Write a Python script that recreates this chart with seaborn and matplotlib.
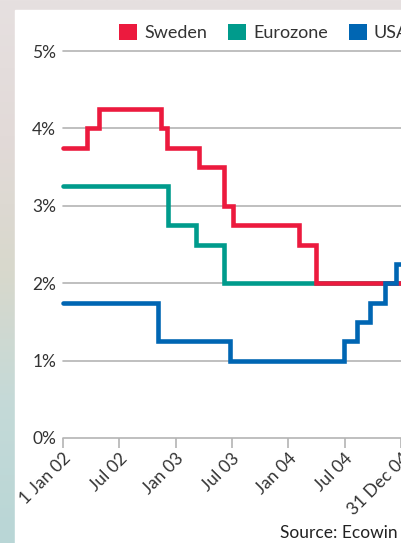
import matplotlib
matplotlib.use("Agg")
import matplotlib.pyplot as plt
from matplotlib.patches import Patch, Rectangle
import numpy as np
import pandas as pd
import seaborn as sns

# Policy rate changes (date of change, new rate in %)
sweden_dates = ["2002-01-01", "2002-03-19", "2002-04-26", "2002-11-15", "2002-12-05",
                "2003-03-17", "2003-06-05", "2003-07-04", "2004-02-06", "2004-04-01",
                "2004-12-31"]
sweden_rates = [3.75, 4.00, 4.25, 4.00, 3.75, 3.50, 3.00, 2.75, 2.50, 2.00, 2.00]

eurozone_dates = ["2002-01-01", "2002-12-06", "2003-03-07", "2003-06-06", "2004-12-31"]
eurozone_rates = [3.25, 2.75, 2.50, 2.00, 2.00]

usa_dates = ["2002-01-01", "2002-11-06", "2003-06-25", "2004-06-30", "2004-08-10",
             "2004-09-21", "2004-11-10", "2004-12-14", "2004-12-31"]
usa_rates = [1.75, 1.25, 1.00, 1.25, 1.50, 1.75, 2.00, 2.25, 2.25]

regions = ["Sweden", "Eurozone", "USA"]
colors = {"Sweden": "#ec1a3e", "Eurozone": "#009b8c", "USA": "#0066b3"}

tick_dates = ["2002-01-01", "2002-07-01", "2003-01-01", "2003-07-01",
              "2004-01-01", "2004-07-01", "2004-12-31"]
tick_labels = ["1 Jan 02", "Jul 02", "Jan 03", "Jul 03", "Jan 04", "Jul 04", "31 Dec 04"]
y_ticks = [0, 1, 2, 3, 4, 5]
y_labels = ["0%", "1%", "2%", "3%", "4%", "5%"]

frames = []
for name, d, r in [("Sweden", sweden_dates, sweden_rates),
                   ("Eurozone", eurozone_dates, eurozone_rates),
                   ("USA", usa_dates, usa_rates)]:
    frames.append(pd.DataFrame({"date": pd.to_datetime(d), "rate": r, "region": name}))
df = pd.concat(frames, ignore_index=True)

sns.set_theme(style="white")
plt.rcParams["font.family"] = ["Lato", "DejaVu Sans"]

W, H = 402, 543
fig = plt.figure(figsize=(W / 100, H / 100), dpi=100)
fig.patch.set_facecolor("#e4dedd")

# paper-like border strip on the left and top, white card behind the chart
strip = fig.add_axes([0, 0, 1, 1], zorder=-10)
grad = np.linspace(0, 1, 256).reshape(-1, 1)
cmap = matplotlib.colors.LinearSegmentedColormap.from_list(
    "edge", ["#b9d6d6", "#c4dad8", "#d8d8cc", "#e2dad8", "#e6e0e0"])
strip.imshow(grad, aspect="auto", cmap=cmap, extent=[0, 1, 0, 1], origin="lower")
strip.add_patch(Rectangle((15 / W, 0), 1, 1 - 10 / H, color="white", zorder=2))
strip.set_xlim(0, 1)
strip.set_ylim(0, 1)
strip.axis("off")

x0 = 63 / W
ax = fig.add_axes([x0, (H - 438) / H, 1 - x0, (438 - 51) / H])
ax.set_facecolor("none")

sns.lineplot(data=df, x="date", y="rate", hue="region", hue_order=regions,
             palette=colors, drawstyle="steps-post", linewidth=3.3,
             legend=False, ax=ax, solid_capstyle="round", solid_joinstyle="miter")
order = {"Eurozone": 3, "Sweden": 4, "USA": 5}
for line, name in zip(ax.lines, regions):
    line.set_zorder(order[name])
    line.set_clip_on(False)

ax.set_ylim(0, 5)
ax.set_xlim(pd.Timestamp("2002-01-01"), pd.Timestamp("2005-01-03"))
ax.set_yticks(y_ticks)
ax.set_yticklabels(y_labels)
ax.set_xticks(pd.to_datetime(tick_dates))
ax.set_xticklabels(tick_labels, rotation=45, ha="right", rotation_mode="anchor")
for y in y_ticks:
    ax.axhline(y, color="#b4b4b4", lw=1.2, zorder=1, clip_on=False)
for s in ax.spines.values():
    s.set_visible(False)
ax.tick_params(axis="y", length=0, pad=5, labelsize=12.5, labelcolor="#333333")
ax.tick_params(axis="x", length=7, width=1.2, color="#b4b4b4", direction="out",
               bottom=True, pad=2, labelsize=12.5, labelcolor="#333333")
ax.set_xlabel("")
ax.set_ylabel("")
ax.grid(False)

handles = [Patch(facecolor=colors[n], edgecolor="none", label=n) for n in regions]
fig.legend(handles=handles, loc="upper left", bbox_to_anchor=(119 / W, 1 - 24 / H),
           ncol=3, frameon=False, fontsize=13, handlelength=1.0, handleheight=1.0,
           handletextpad=0.4, columnspacing=1.15, borderpad=0, borderaxespad=0,
           labelcolor="#333333")

fig.text(280 / W, 5 / H, "Source: Ecowin", fontsize=12.5, color="#222222",
         ha="left", va="baseline")

fig.savefig("out.png", dpi=100)
